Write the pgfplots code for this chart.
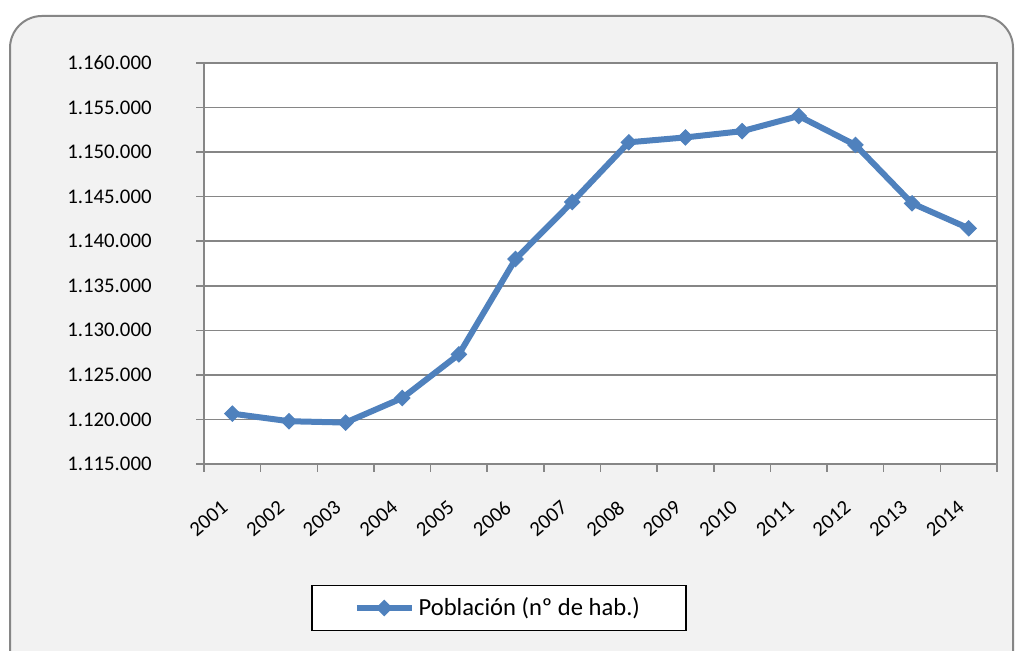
\documentclass[border=0pt]{standalone}
\usepackage{pgfplots}
\pgfplotsset{compat=1.18}
\usepackage{fontspec}
\setmainfont{Carlito}
\definecolor{serie}{HTML}{4F81BD}
\definecolor{gridc}{HTML}{868686}
\definecolor{panel}{HTML}{F2F2F2}
\begin{document}
\begin{tikzpicture}
\useasboundingbox (0,0) rectangle (507.5pt,325.5pt);
\fill[white] (0,0) rectangle (507.5pt,325.5pt);
\draw[gridc, fill=panel, line width=1pt, rounded corners=16pt] (5pt,-20pt) rectangle (506.5pt,317.5pt);
\begin{axis}[
  at={(102pt,93.5pt)}, anchor=south west,
  scale only axis, width=396.5pt, height=200.5pt,
  xmin=0.5, xmax=14.5, ymin=1115000, ymax=1160000,
  xtick={1,...,14},
  xticklabels={2001,2002,2003,2004,2005,2006,2007,2008,2009,2010,2011,2012,2013,2014},
  minor xtick={0.5,1.5,...,14.5},
  ytick={1115000,1120000,...,1160000},
  yticklabels={1.115.000,1.120.000,1.125.000,1.130.000,1.135.000,1.140.000,1.145.000,1.150.000,1.155.000,1.160.000},
  scaled y ticks=false,
  ymajorgrids,
  major grid style={gridc, line width=0.75pt},
  axis line style={gridc, line width=0.75pt},
  tick align=outside, tick pos=left,
  major tick length=4pt, minor tick length=4pt,
  tick style={gridc, line width=0.75pt},
  major x tick style={draw=none},
  axis background/.style={fill=white},
  tick label style={font=\fontsize{10.4}{12.5}\selectfont},
  xticklabel style={xshift=-6pt, yshift=-13.5pt, rotate=40, anchor=north east, inner sep=0pt},
  yticklabel style={anchor=east, inner sep=0pt, xshift=-22pt},
  legend style={at={(0.372,-0.359)}, anchor=center, draw=black, fill=white,
    line width=0.75pt, inner xsep=21pt, inner ysep=4pt,
    font=\fontsize{12.3}{15}\selectfont},
  legend image code/.code={\draw[mark repeat=2,mark phase=2,#1] plot coordinates {(0cm,0cm) (0.48cm,0cm) (0.96cm,0cm)};},
]
\addplot[serie, line width=3pt, mark=square*, mark size=2.7pt,
  mark options={rotate=45, line width=0.5pt, solid}] coordinates {
(1,1120650) (2,1119800) (3,1119650) (4,1122400) (5,1127300) (6,1138000) (7,1144400)
(8,1151100) (9,1151650) (10,1152350) (11,1154050) (12,1150800) (13,1144250) (14,1141450)
};
\addlegendentry{Población (nº de hab.)}
\end{axis}
\end{tikzpicture}
\end{document}
